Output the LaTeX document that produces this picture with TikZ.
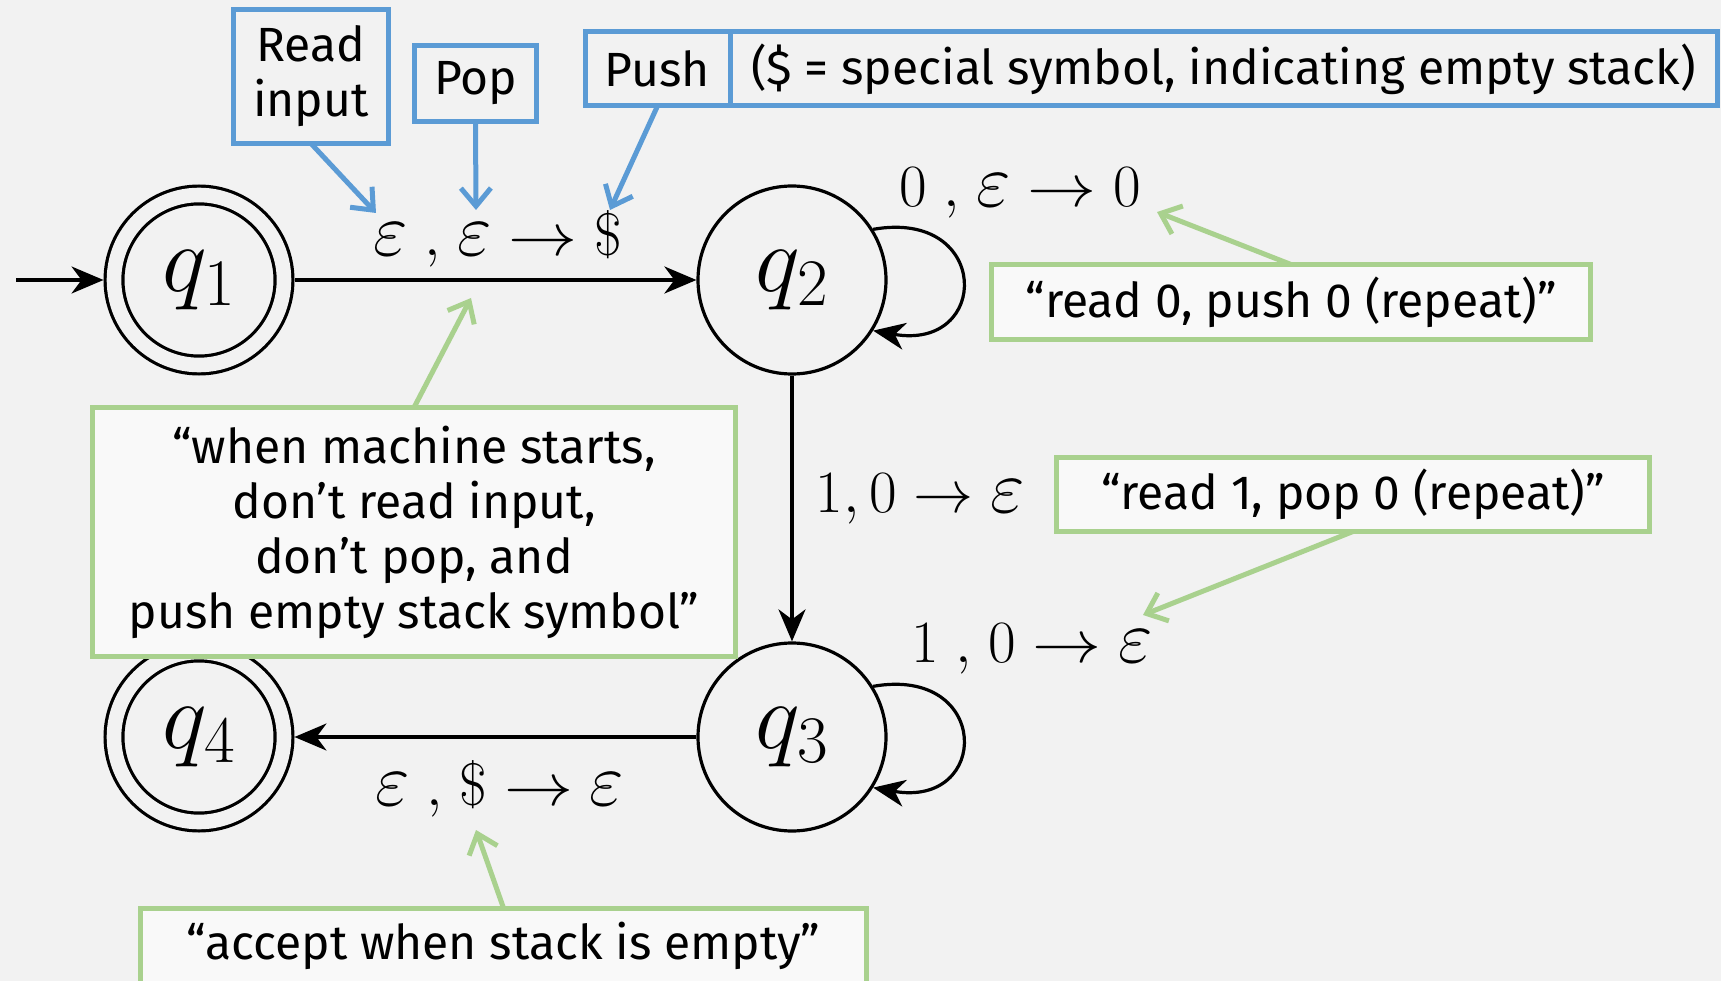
\RequirePackage{fix-cm}
\documentclass[tikz,border=0pt]{standalone}
\usepackage{fontspec}
\usepackage{graphicx}
\usetikzlibrary{arrows.meta,positioning}
\newfontfamily\fira{Fira Sans}
\definecolor{bgcol}{HTML}{F2F2F2}
\definecolor{callblue}{HTML}{5B9BD5}
\definecolor{notegreen}{HTML}{A9D18E}
\definecolor{notefill}{HTML}{F9F9F9}
\newcommand{\notefont}{\fira\fontsize{48}{55}\selectfont}
\newcommand{\eps}{\mathord{\scalebox{1.25}{$\varepsilon$}}}
\newcommand{\tr}{\mathrel{\scalebox{1.15}[1]{$\rightarrow$}}}
\tikzset{
  state/.style={circle,draw,line width=3.2pt,minimum size=188pt,inner sep=0pt,font=\fontsize{95}{95}\selectfont},
  accepting/.style={double=bgcol,double distance=14.6pt,minimum size=170pt,outer sep=10.5pt},
  trans/.style={-{Stealth[length=32pt,width=27pt,inset=10pt]},line width=3.2pt},
  lbl/.style={anchor=base,inner sep=0pt,font=\fontsize{60}{60}\selectfont},
  tag/.style={draw=callblue,line width=5pt,inner sep=0pt,outer sep=0pt,align=center,font=\notefont},
  note/.style={draw=notegreen,fill=notefill,line width=5pt,inner sep=0pt,outer sep=0pt,align=center,font=\notefont},
  callout/.style={-{Straight Barb[length=18pt,width=30pt]},line width=5pt,draw=callblue},
  noteline/.style={-{Straight Barb[length=18pt,width=30pt]},line width=5pt,draw=notegreen}
}
\begin{document}
\begin{tikzpicture}[x=1pt,y=1pt]
\useasboundingbox (0,0) rectangle (1721,-981);
\fill[bgcol] (0,0) rectangle (1721,-981);

\node[state,accepting] (q1) at (199,-280) {$q_1$};
\node[state] (q2) at (792,-280) {$q_2$};
\node[state] (q3) at (792,-737) {$q_3$};
\node[state,accepting] (q4) at (199,-737) {$q_4$};
\coordinate (start) at (16,-280);

\draw[trans] (start) -- (q1);
\draw[trans] (q1) -- (q2);
\draw[trans] (q2) -- (q3);
\draw[trans] (q3) -- (q4);
\draw[trans] (q2.32) to[out=10,in=-10,distance=120pt] (q2.-32);
\draw[trans] (q3.32) to[out=10,in=-10,distance=120pt] (q3.-32);

\node[lbl] (l12) at (498,-256) {$\eps\;{,}\;\eps\tr\$$};
\node[lbl] (l22) at (1020,-207) {$0\;{,}\;\eps\tr 0$};
\node[lbl] (l23) at (920,-512) {$1,0\rightarrow\eps$};
\node[lbl] (l33) at (1032,-662) {$1\;{,}\;0\tr\eps$};
\node[lbl] (l34) at (500,-805) {$\eps\;{,}\;\$\tr\eps$};

\node[tag,minimum width=155pt,minimum height=134pt] (readtag) at (311,-76.5) {Read\\input};
\node[tag,minimum width=122pt,minimum height=76pt] (poptag) at (475.5,-83.5) {Pop};
\node[tag,minimum width=145pt,minimum height=74pt] (pushtag) at (657.5,-69) {Push};
\node[tag,minimum width=987pt,minimum height=74pt,right=0pt of pushtag] (dollartag) {(\$ = special symbol, indicating empty stack)};

\node[note,minimum width=599pt,minimum height=75pt] (read0) at (1291,-302) {“read 0, push 0 (repeat)”};
\node[note,minimum width=643pt,minimum height=249pt] (initnote) at (414,-532) {“when machine starts,\\don’t read input,\\don’t pop, and\\push empty stack symbol”};
\node[note,minimum width=593pt,minimum height=74pt] (read1) at (1353,-494.5) {“read 1, pop 0 (repeat)”};
\node[note,minimum width=726pt,minimum height=75pt] (acceptnote) at (503.5,-945.5) {“accept when stack is empty”};

\coordinate (readtip) at (376,-213);
\coordinate (poptip) at (476,-210);
\coordinate (pushtip) at (610,-210);
\coordinate (read0tip) at (1157,-212);
\coordinate (inittip) at (471,-298);
\coordinate (read1tip) at (1143,-615);
\coordinate (accepttip) at (476,-830);

\draw[callout] (readtag.south) -- (readtip);
\draw[callout] (poptag.south) -- (poptip);
\draw[callout] (pushtag.south) -- (pushtip);
\draw[noteline] (read0.north) -- (read0tip);
\draw[noteline] (initnote.north) -- (inittip);
\draw[noteline] (read1.south) -- (read1tip);
\draw[noteline] (acceptnote.north) -- (accepttip);
\end{tikzpicture}
\end{document}
